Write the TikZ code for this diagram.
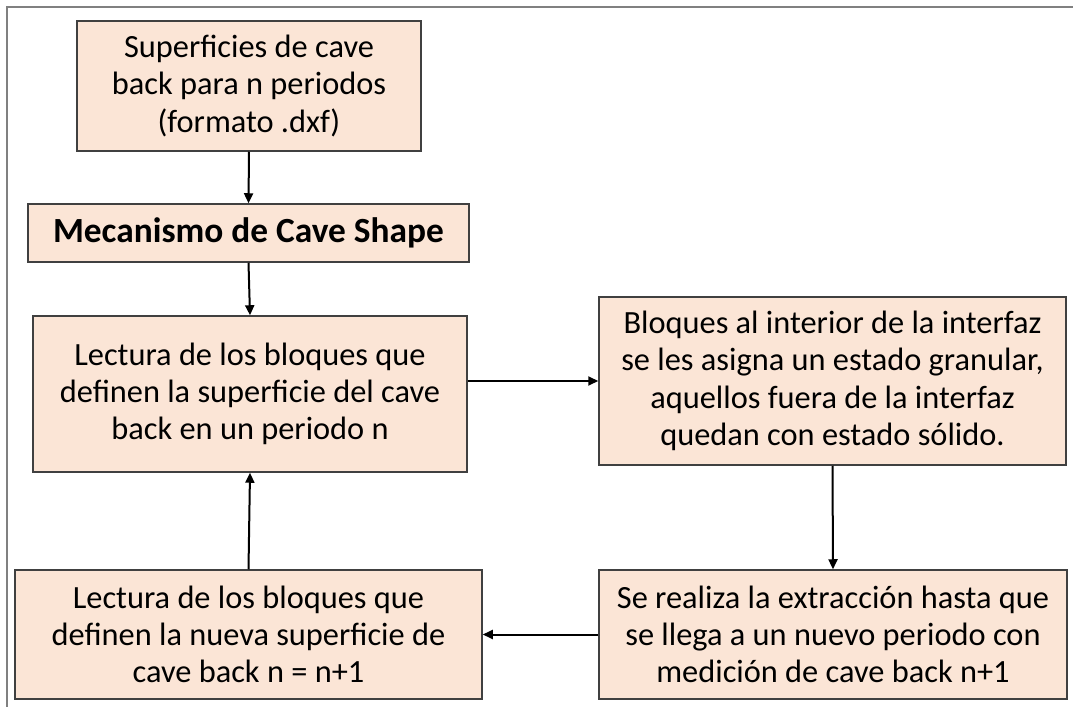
\documentclass[tikz,border=0pt]{standalone}
\usepackage{fontspec}
\setmainfont{Carlito}
\usetikzlibrary{arrows.meta,calc}
\definecolor{boxfill}{HTML}{FBE5D6}
\definecolor{boxline}{HTML}{404040}
\definecolor{framegray}{HTML}{808080}
\begin{document}
\begin{tikzpicture}[x=1bp,y=-1bp,
  flowbox/.style={draw=boxline,fill=boxfill,line width=1.5bp,inner sep=0pt,align=center,
    font=\fontsize{32.5}{37.5}\selectfont},
  arr/.style={line width=2bp,-{Triangle[length=10bp,width=9bp]}}]
\useasboundingbox (0,0) rectangle (1073,707);
\draw[framegray,line width=2.5bp] (7,707) -- (7,7) -- (1073,7);
\node[flowbox,minimum width=344bp,minimum height=130bp] (b1) at (249,86)
  {Superficies de cave\\back para n periodos\\(formato .dxf)};
\node[flowbox,minimum width=441bp,minimum height=58bp,font=\fontsize{35.5}{40}\selectfont\bfseries] (b2) at (248.5,233)
  {Mecanismo de Cave Shape};
\node[flowbox,minimum width=434bp,minimum height=156bp] (b3) at (250,394)
  {Lectura de los bloques que\\definen la superficie del cave\\back en un periodo n};
\node[flowbox,minimum width=467bp,minimum height=168bp] (b4) at (832.5,381)
  {Bloques al interior de la interfaz\\se les asigna un estado granular,\\aquellos fuera de la interfaz\\quedan con estado sólido.};
\node[flowbox,minimum width=468bp,minimum height=129bp] (b5) at (833,634.5)
  {Se realiza la extracción hasta que\\se llega a un nuevo periodo con\\medición de cave back n+1};
\node[flowbox,minimum width=467bp,minimum height=129bp] (b6) at (248.5,634.5)
  {Lectura de los bloques que\\definen la nueva superficie de\\cave back n = n+1};
\draw[arr] (b1.south) -- (b2.north);
\draw[arr] (b2.south) -- (b3.north);
\draw[arr] (b3.east |- b4.west) -- (b4.west);
\draw[arr] (b4.south) -- (b5.north);
\draw[arr] (b5.west) -- (b6.east);
\draw[arr] (b6.north) -- (b3.south);
\end{tikzpicture}
\end{document}
